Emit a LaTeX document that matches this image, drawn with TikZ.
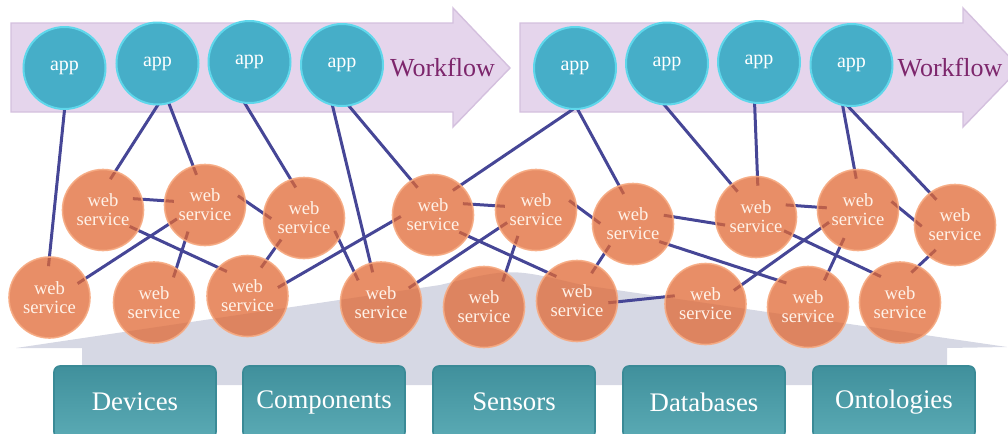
\documentclass[tikz,border=0pt]{standalone}
\usepackage{fontspec}
\setmainfont{Liberation Serif}
\usepackage{tikz}
\usetikzlibrary{calc}

\definecolor{flowfill}{RGB}{229,213,236}
\definecolor{flowedge}{RGB}{212,192,222}
\definecolor{flowtext}{RGB}{125,38,108}
\definecolor{appfill}{RGB}{70,174,200}
\definecolor{appedge}{RGB}{95,215,235}
\definecolor{wsfill}{RGB}{224,104,52}
\definecolor{wsedge}{RGB}{246,170,130}
\definecolor{wstext}{RGB}{255,242,232}
\definecolor{linkblue}{RGB}{70,70,150}
\definecolor{roofgrey}{RGB}{214,216,228}
\definecolor{boxtop}{RGB}{64,144,156}
\definecolor{boxfill}{RGB}{90,170,180}
\definecolor{boxedge}{RGB}{58,138,150}

\pgfdeclarelayer{back}
\pgfdeclarelayer{links}
\pgfsetlayers{back,links,main}

\begin{document}
\begin{tikzpicture}[x=0.5pt, y=-0.5pt,
  flow/.style={fill=flowfill, draw=flowedge, line width=0.7pt},
  flowlabel/.style={text=flowtext, font=\fontsize{13}{15}\selectfont},
  app/.style={circle, fill=appfill, draw=appedge, line width=1pt, minimum size=41pt, inner sep=0pt, text=white, font=\fontsize{10}{12}\selectfont},
  ws/.style={circle, fill=wsfill, fill opacity=0.75, text opacity=1, draw=wsedge, draw opacity=0.9, line width=0.8pt, minimum size=40.5pt, inner sep=0pt, align=center, text=wstext, font=\fontsize{9.3}{9.6}\selectfont},
  link/.style={draw=linkblue, line width=1.5pt, shorten <=-5pt, shorten >=-5pt},
  layerbox/.style={rectangle, rounded corners=3pt, top color=boxtop, bottom color=boxfill, draw=boxedge, line width=0.8pt, minimum width=81pt, minimum height=36pt, text=white, font=\fontsize{13.4}{16}\selectfont}]
\useasboundingbox (0,0) rectangle (1008,434);

\node[app] (A1) at (64.5,68) {app}; \node[app] (A2) at (157.5,63.5) {app};
\node[app] (A3) at (249.5,62) {app}; \node[app] (A4) at (342,65) {app};
\node[flowlabel] (WF1) at (442.5,68) {Workflow};
\node[app] (A5) at (575,68) {app}; \node[app] (A6) at (667,63.5) {app};
\node[app] (A7) at (759,62) {app}; \node[app] (A8) at (851.5,65) {app};
\node[flowlabel] (WF2) at (950,68) {Workflow};

\node[ws] (W1) at (103,210) {web\\service}; \node[ws] (W2) at (205,205) {web\\service};
\node[ws] (W3) at (304,218) {web\\service}; \node[ws] (W4) at (49.5,297.5) {web\\service};
\node[ws] (W5) at (154,302.5) {web\\service}; \node[ws] (W6) at (247.5,296) {web\\service};
\node[ws] (W7) at (381,302.5) {web\\service}; \node[ws] (W8) at (433,215) {web\\service};
\node[ws] (W9) at (536,210) {web\\service}; \node[ws] (W10) at (484,307) {web\\service};
\node[ws] (W11) at (633,224) {web\\service}; \node[ws] (W12) at (577,301) {web\\service};
\node[ws] (W13) at (705.5,304) {web\\service}; \node[ws] (W14) at (756,217) {web\\service};
\node[ws] (W15) at (858,210) {web\\service}; \node[ws] (W16) at (808,307) {web\\service};
\node[ws] (W17) at (900,302.5) {web\\service}; \node[ws] (W18) at (955,225) {web\\service};

\node[layerbox] (DEV) at (135,402) {Devices};
\node[layerbox] (COMP) at (324,402) {Components};
\node[layerbox] (SENS) at (514,402) {Sensors};
\node[layerbox] (DB) at (704,402) {Databases};
\node[layerbox] (ONT) at (894,402) {Ontologies};

\begin{pgfonlayer}{back}
\filldraw[flow] (11,23) -- (453,23) -- (453,8) -- (510,68) -- (453,127) -- (453,112) -- (11,112) -- cycle;
\filldraw[flow] (520,23) -- (963,23) -- (963,8) -- (1020,68) -- (963,127) -- (963,112) -- (520,112) -- cycle;
\fill[roofgrey] (16,348) -- (440,285) .. controls (511,268) .. (582,285) -- (1007,347)
  -- (947,348) -- (947,385) -- (82,385) -- (82,348) -- cycle;
\end{pgfonlayer}

\begin{pgfonlayer}{links}
\draw[link] (A1.270) -- (W4.90); \draw[link] (A2.270) -- (W1.72); \draw[link] (A2.286) -- (W2.107);
\draw[link] (A3.264) -- (W3.109); \draw[link] (A4.257) -- (W7.105); \draw[link] (A4.280) -- (W8.122);
\draw[link] (A5.266) -- (W8.47); \draw[link] (A5.274) -- (W11.110); \draw[link] (A6.267) -- (W14.127);
\draw[link] (A7.264) -- (W14.88); \draw[link] (A8.258) -- (W15.95); \draw[link] (A8.266) -- (W18.128);

\draw[link] (W1.15) -- (W2.174); \draw[link] (W2.5) -- (W3.173); \draw[link] (W1.-30) -- (W6.136);
\draw[link] (W2.208) -- (W4.28); \draw[link] (W2.241) -- (W5.57); \draw[link] (W3.226) -- (W6.62);
\draw[link] (W3.-32) -- (W7.131); \draw[link] (W6.19) -- (W8.189); \draw[link] (W8.15) -- (W9.174);
\draw[link] (W7.29) -- (W9.206); \draw[link] (W8.-31) -- (W12.136); \draw[link] (W9.239) -- (W10.58);
\draw[link] (W9.5) -- (W11.171); \draw[link] (W11.226) -- (W12.61); \draw[link] (W11.10) -- (W14.189);
\draw[link] (W11.-30) -- (W16.139); \draw[link] (W12.-1) -- (W13.170); \draw[link] (W13.28) -- (W15.206);
\draw[link] (W14.16) -- (W15.176); \draw[link] (W14.-26) -- (W17.133); \draw[link] (W15.244) -- (W16.60);
\draw[link] (W15.3) -- (W18.173); \draw[link] (W18.230) -- (W17.63);
\end{pgfonlayer}

\end{tikzpicture}
\end{document}
